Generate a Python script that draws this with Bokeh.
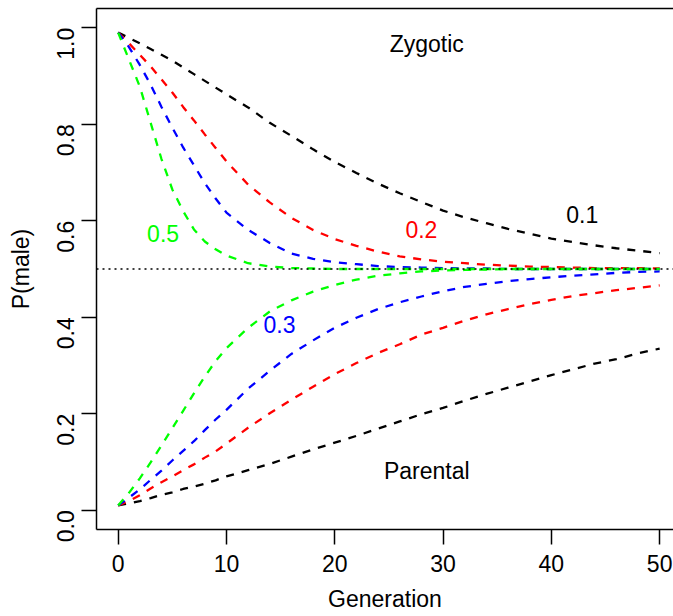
import math
from bokeh.plotting import figure
from bokeh.models import Span, LinearAxis, FixedTicker, Range1d, ColumnDataSource
from bokeh.embed import file_html
from bokeh.resources import INLINE
from bokeh.core.properties import value

# ---------------- data ----------------
generation = [0, 1, 2, 3, 4, 5, 6, 7, 8, 9, 10, 12, 14, 16, 18, 20, 22, 24, 26, 28,
              30, 32, 34, 36, 38, 40, 42, 44, 46, 48, 50]

zygotic_01 = [0.99, 0.979, 0.968, 0.956, 0.944, 0.932, 0.918, 0.904, 0.890, 0.876, 0.862,
              0.835, 0.803, 0.776, 0.748, 0.722, 0.699, 0.677, 0.657, 0.639, 0.621,
              0.607, 0.595, 0.583, 0.573, 0.563, 0.556, 0.549, 0.543, 0.538, 0.533]
zygotic_02 = [0.99, 0.968, 0.944, 0.920, 0.893, 0.866, 0.836, 0.808, 0.779, 0.751, 0.723,
              0.675, 0.638, 0.606, 0.581, 0.562, 0.548, 0.536, 0.526, 0.520, 0.515,
              0.512, 0.509, 0.507, 0.505, 0.504, 0.503, 0.502, 0.502, 0.502, 0.501]
zygotic_03 = [0.99, 0.960, 0.923, 0.882, 0.836, 0.793, 0.752, 0.715, 0.678, 0.646, 0.617,
              0.581, 0.554, 0.532, 0.521, 0.514, 0.510, 0.506, 0.504, 0.503, 0.502,
              0.501, 0.501, 0.500, 0.500, 0.500, 0.500, 0.500, 0.500, 0.500, 0.500]
zygotic_05 = [0.99, 0.934, 0.878, 0.803, 0.728, 0.665, 0.620, 0.582, 0.557, 0.541, 0.528,
              0.512, 0.505, 0.502, 0.501, 0.500, 0.500, 0.500, 0.500, 0.500, 0.500,
              0.500, 0.500, 0.500, 0.500, 0.500, 0.500, 0.500, 0.500, 0.500, 0.500]

parental_01 = [0.01, 0.014, 0.019, 0.025, 0.032, 0.037, 0.044, 0.049, 0.055, 0.062, 0.070,
               0.083, 0.096, 0.111, 0.126, 0.140, 0.154, 0.169, 0.184, 0.199, 0.212,
               0.227, 0.241, 0.254, 0.267, 0.280, 0.292, 0.304, 0.313, 0.325, 0.335]
parental_02 = [0.01, 0.019, 0.031, 0.045, 0.058, 0.070, 0.083, 0.095, 0.109, 0.122, 0.138,
               0.171, 0.201, 0.229, 0.256, 0.282, 0.305, 0.326, 0.344, 0.364, 0.378,
               0.393, 0.406, 0.417, 0.427, 0.436, 0.444, 0.450, 0.456, 0.461, 0.466]
parental_03 = [0.01, 0.026, 0.043, 0.063, 0.082, 0.103, 0.123, 0.143, 0.166, 0.188, 0.208,
               0.252, 0.289, 0.324, 0.352, 0.378, 0.399, 0.417, 0.431, 0.443, 0.454,
               0.463, 0.469, 0.475, 0.479, 0.483, 0.486, 0.489, 0.492, 0.494, 0.495]
parental_05 = [0.01, 0.036, 0.066, 0.099, 0.134, 0.170, 0.206, 0.242, 0.277, 0.309, 0.336,
               0.378, 0.412, 0.435, 0.453, 0.467, 0.478, 0.486, 0.491, 0.495, 0.497,
               0.498, 0.499, 0.500, 0.500, 0.500, 0.500, 0.500, 0.500, 0.500, 0.500]

rate_labels = ["0.1", "0.2", "0.3", "0.5"]
x_ticks = [0, 10, 20, 30, 40, 50]
y_ticks = [0.0, 0.2, 0.4, 0.6, 0.8, 1.0]
y_tick_labels = ["0.0", "0.2", "0.4", "0.6", "0.8", "1.0"]
equilibrium = 0.5

# ---------------- styling ----------------
FONT = "Liberation Sans"
FS = "23px"
colors = ["#000000", "#FF0000", "#0000FF", "#00FF00"]

p = figure(width=673, height=616,
           x_range=Range1d(-2, 51.28), y_range=Range1d(-0.04, 1.04),
           output_backend="svg", toolbar_location=None,
           min_border_left=96, min_border_right=0, min_border_top=8, min_border_bottom=87)
p.outline_line_color = None
p.grid.visible = False
p.background_fill_color = "white"
p.border_fill_color = "white"

# axes
for ax in (p.xaxis[0], p.yaxis[0]):
    ax.axis_line_color = "black"
    ax.axis_line_width = 1.5
    ax.major_tick_line_color = "black"
    ax.major_tick_line_width = 1.5
    ax.major_tick_out = 15
    ax.major_tick_in = 0
    ax.minor_tick_line_color = None
    ax.major_label_text_font = FONT
    ax.major_label_text_font_size = FS
    ax.major_label_text_color = "black"
    ax.axis_label_text_font = FONT
    ax.axis_label_text_font_size = FS
    ax.axis_label_text_font_style = "normal"
    ax.axis_label_text_color = "black"

p.xaxis.ticker = FixedTicker(ticks=x_ticks)
p.yaxis.ticker = FixedTicker(ticks=y_ticks)
p.yaxis.major_label_overrides = {t: l for t, l in zip(y_ticks, y_tick_labels)}
p.yaxis.major_label_orientation = math.pi / 2
p.xaxis.major_label_standoff = 10
p.yaxis.major_label_standoff = 16
p.xaxis.axis_label = "Generation"
p.yaxis.axis_label = "P(male)"
p.xaxis.axis_label_standoff = 11
p.yaxis.axis_label_standoff = 12

# top edge of the box (right edge lies outside the picture)
top = LinearAxis(ticker=FixedTicker(ticks=[]), axis_line_color="black", axis_line_width=1.5,
                 major_tick_out=0, major_tick_in=0, minor_tick_out=0, minor_tick_in=0,
                 major_label_text_font_size="0px")
p.add_layout(top, "above")

# equilibrium dotted line
p.add_layout(Span(location=equilibrium, dimension="width", line_color="black",
                  line_width=1.5, line_dash="2 4"))

zyg = [zygotic_01, zygotic_02, zygotic_03, zygotic_05]
par = [parental_01, parental_02, parental_03, parental_05]
for z, pr, c in zip(zyg, par, colors):
    p.line(generation, z, line_color=c, line_width=2.3, line_dash="8 8")
    p.line(generation, pr, line_color=c, line_width=2.3, line_dash="8 8")

# annotations
note_src = ColumnDataSource(dict(x=[28.5, 28.5], y=[0.966, 0.081], t=["Zygotic", "Parental"]))
p.text(x="x", y="y", text="t", source=note_src, text_align="center",
       text_baseline="alphabetic", text_color="black",
       text_font=value(FONT), text_font_size=value(FS))

lab_src = ColumnDataSource(dict(x=[42.85, 28.0, 14.9, 4.15], y=[0.613, 0.582, 0.385, 0.573],
                                t=rate_labels, c=colors))
p.text(x="x", y="y", text="t", text_color="c", source=lab_src, text_align="center",
       text_baseline="alphabetic", text_font=value(FONT), text_font_size=value(FS))

open("out.html", "w").write(file_html(p, INLINE))
